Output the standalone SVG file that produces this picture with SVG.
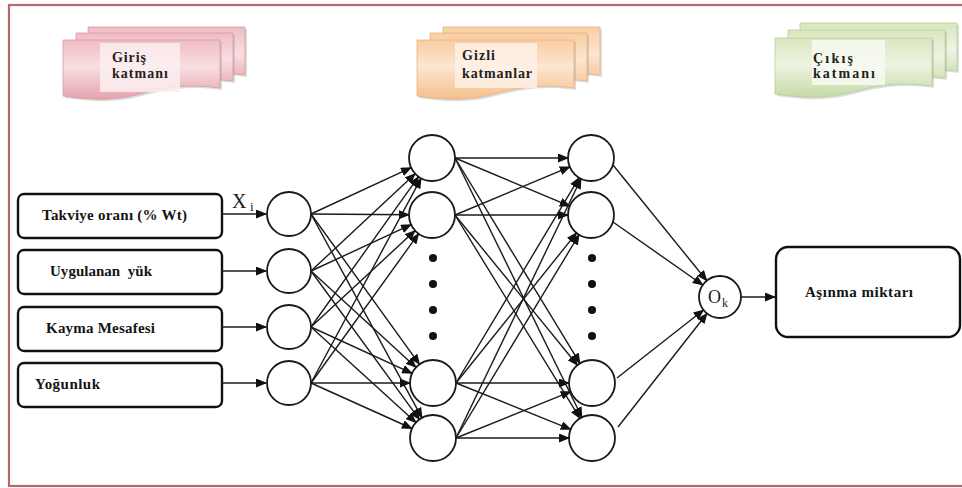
<svg xmlns="http://www.w3.org/2000/svg" width="962" height="488" viewBox="0 0 962 488">
<style>
.box{fill:#fff;stroke:#111;stroke-width:2.4}
.node{fill:#fff;stroke:#1a1a1a;stroke-width:1.8}
.dot{fill:#111}
.edge{stroke:#1a1a1a;stroke-width:1.4;fill:none;marker-end:url(#ah)}
.lbl{font-family:"Liberation Serif","Times New Roman",serif;font-weight:bold;font-size:15px;fill:#151515;white-space:pre}
.hdr{font-family:"Liberation Serif","Times New Roman",serif;font-weight:bold;font-size:14px;fill:#222}
.sym{font-family:"Liberation Serif","Times New Roman",serif;fill:#1a1a1a}
.shadow{fill:#9a9a9a;opacity:0.35}
</style>
<defs>
<marker id="ah" markerUnits="userSpaceOnUse" markerWidth="11" markerHeight="9" refX="10" refY="4.5" orient="auto">
<path d="M0,0 L11,4.5 L0,9 z" fill="#111"/>
</marker>
<path id="doc" d="M0,0 H157 V48 C127,44 107,46 77,54 C52,61 27,60 0,56 Z"/>
<linearGradient id="gp" x1="0" y1="0" x2="0" y2="1">
<stop offset="0" stop-color="#efbcc2"/><stop offset="0.45" stop-color="#f8dfe2"/><stop offset="1" stop-color="#e6a3ac"/>
</linearGradient>
<linearGradient id="go" x1="0" y1="0" x2="0" y2="1">
<stop offset="0" stop-color="#f8cda2"/><stop offset="0.45" stop-color="#fce6d0"/><stop offset="1" stop-color="#f4bf8c"/>
</linearGradient>
<linearGradient id="gg" x1="0" y1="0" x2="0" y2="1">
<stop offset="0" stop-color="#d9e6bf"/><stop offset="0.45" stop-color="#eef4e2"/><stop offset="1" stop-color="#c6daa6"/>
</linearGradient>
</defs>

<rect x="9" y="5" width="960" height="481" fill="none" stroke="#b8676d" stroke-width="2.2"/>

<g id="layer-input-label">
<use href="#doc" x="90" y="29" class="shadow"/>
<use href="#doc" x="88" y="27" fill="url(#gp)" stroke="#d79aa2" stroke-width="0.8"/>
<use href="#doc" x="78" y="35" class="shadow"/>
<use href="#doc" x="76" y="33" fill="url(#gp)" stroke="#d79aa2" stroke-width="0.8"/>
<use href="#doc" x="65" y="42" class="shadow"/>
<use href="#doc" x="63" y="40" fill="url(#gp)" stroke="#d79aa2" stroke-width="0.8"/>
<rect x="100" y="43" width="80" height="49" fill="#fbeef0" opacity="0.85"/>
<text class="hdr" x="112" y="62" textLength="34" lengthAdjust="spacing">Giriş</text>
<text class="hdr" x="112" y="78" textLength="56" lengthAdjust="spacing">katmanı</text>
</g>

<g id="layer-hidden-label">
<use href="#doc" x="445" y="29" class="shadow"/>
<use href="#doc" x="443" y="27" fill="url(#go)" stroke="#e8b184" stroke-width="0.8"/>
<use href="#doc" x="432" y="35" class="shadow"/>
<use href="#doc" x="430" y="33" fill="url(#go)" stroke="#e8b184" stroke-width="0.8"/>
<use href="#doc" x="419" y="42" class="shadow"/>
<use href="#doc" x="417" y="40" fill="url(#go)" stroke="#e8b184" stroke-width="0.8"/>
<rect x="455" y="43" width="82" height="45" fill="#fdf1e5" opacity="0.85"/>
<text class="hdr" x="462" y="60" textLength="33" lengthAdjust="spacing">Gizli</text>
<text class="hdr" x="462" y="78" textLength="70" lengthAdjust="spacing">katmanlar</text>
</g>

<g id="layer-output-label">
<use href="#doc" x="802" y="25" class="shadow"/>
<use href="#doc" x="800" y="23" fill="url(#gg)" stroke="#b9cf98" stroke-width="0.8"/>
<use href="#doc" x="790" y="32" class="shadow"/>
<use href="#doc" x="788" y="30" fill="url(#gg)" stroke="#b9cf98" stroke-width="0.8"/>
<use href="#doc" x="777" y="40" class="shadow"/>
<use href="#doc" x="775" y="38" fill="url(#gg)" stroke="#b9cf98" stroke-width="0.8"/>
<rect x="812" y="40" width="73" height="45" fill="#f6f9ef" opacity="0.9"/>
<text class="hdr" x="813" y="63" textLength="40" lengthAdjust="spacing">Çıkış</text>
<text class="hdr" x="813" y="78" textLength="62" lengthAdjust="spacing">katmanı</text>
</g>

<g id="in1"><rect class="box" x="18" y="194" width="204" height="44" rx="6"/><text class="lbl" x="42" y="220" textLength="145" lengthAdjust="spacing">Takviye oranı (% Wt)</text></g>
<g id="in2"><rect class="box" x="18" y="250" width="204" height="44" rx="6"/><text class="lbl" x="50" y="276" textLength="102" lengthAdjust="spacing">Uygulanan  yük</text></g>
<g id="in3"><rect class="box" x="18" y="307" width="204" height="44" rx="6"/><text class="lbl" x="46" y="333" textLength="109" lengthAdjust="spacing">Kayma Mesafesi</text></g>
<g id="in4"><rect class="box" x="18" y="363" width="204" height="44" rx="6"/><text class="lbl" x="35" y="389" textLength="65" lengthAdjust="spacing">Yoğunluk</text></g>

<g id="xi-label"><text class="sym" x="232" y="208" font-size="20">X</text><text class="sym" x="250" y="211" font-size="13">i</text></g>

<g id="i1"><circle class="node" cx="289" cy="214" r="22"/></g>
<g id="i2"><circle class="node" cx="289" cy="271" r="22"/></g>
<g id="i3"><circle class="node" cx="289" cy="327" r="22"/></g>
<g id="i4"><circle class="node" cx="289" cy="383" r="22"/></g>

<g id="h1a"><circle class="node" cx="432" cy="158" r="23"/></g>
<g id="h1b"><circle class="node" cx="432" cy="215" r="23"/></g>
<g id="h1c"><circle class="node" cx="433" cy="383" r="23"/></g>
<g id="h1d"><circle class="node" cx="433" cy="438" r="23"/></g>
<g id="h1dots"><circle class="dot" cx="433" cy="258" r="4"/><circle class="dot" cx="433" cy="284" r="4"/><circle class="dot" cx="433" cy="310" r="4"/><circle class="dot" cx="433" cy="336" r="4"/></g>

<g id="h2a"><circle class="node" cx="591" cy="158" r="23"/></g>
<g id="h2b"><circle class="node" cx="591" cy="215" r="23"/></g>
<g id="h2c"><circle class="node" cx="592" cy="383" r="23"/></g>
<g id="h2d"><circle class="node" cx="592" cy="438" r="23"/></g>
<g id="h2dots"><circle class="dot" cx="592" cy="258" r="4"/><circle class="dot" cx="592" cy="284" r="4"/><circle class="dot" cx="592" cy="310" r="4"/><circle class="dot" cx="592" cy="336" r="4"/></g>

<g id="out"><circle class="node" cx="720" cy="297" r="21"/><text class="sym" x="708" y="303" font-size="18">O</text><text class="sym" x="722" y="307" font-size="12">k</text></g>

<g id="result"><rect class="box" x="776" y="247" width="184" height="90" rx="12"/><text class="lbl" x="805" y="297" textLength="108" lengthAdjust="spacing">Aşınma miktarı</text></g>

<g id="connectors">
<line class="edge" x1="222" y1="214" x2="266" y2="214"/>
<line class="edge" x1="222" y1="271" x2="266" y2="271"/>
<line class="edge" x1="222" y1="327" x2="266" y2="327"/>
<line class="edge" x1="222" y1="383" x2="266" y2="383"/>

<line class="edge" x1="311" y1="214" x2="411.1" y2="167.7"/>
<line class="edge" x1="311" y1="214" x2="409" y2="214.8"/>
<line class="edge" x1="311" y1="214" x2="419.5" y2="364.3"/>
<line class="edge" x1="311" y1="214" x2="422" y2="417.8"/>
<line class="edge" x1="311" y1="271" x2="415.2" y2="173.7"/>
<line class="edge" x1="311" y1="271" x2="411.1" y2="224.7"/>
<line class="edge" x1="311" y1="271" x2="416.1" y2="367.4"/>
<line class="edge" x1="311" y1="271" x2="419.4" y2="419.4"/>
<line class="edge" x1="311" y1="327" x2="418.6" y2="176.7"/>
<line class="edge" x1="311" y1="327" x2="415.1" y2="230.6"/>
<line class="edge" x1="311" y1="327" x2="412.1" y2="373.4"/>
<line class="edge" x1="311" y1="327" x2="416" y2="422.5"/>
<line class="edge" x1="311" y1="383" x2="421.1" y2="178.3"/>
<line class="edge" x1="311" y1="383" x2="418.6" y2="233.7"/>
<line class="edge" x1="311" y1="383" x2="410" y2="383"/>
<line class="edge" x1="311" y1="383" x2="412" y2="428.5"/>

<line class="edge" x1="455" y1="158" x2="568" y2="158"/>
<line class="edge" x1="455" y1="158" x2="569.8" y2="206.1"/>
<line class="edge" x1="455" y1="158" x2="580" y2="363.4"/>
<line class="edge" x1="455" y1="158" x2="581.9" y2="417.3"/>
<line class="edge" x1="455" y1="215" x2="569.8" y2="166.9"/>
<line class="edge" x1="455" y1="215" x2="568" y2="215"/>
<line class="edge" x1="455" y1="215" x2="577.5" y2="365.2"/>
<line class="edge" x1="455" y1="215" x2="580" y2="418.4"/>
<line class="edge" x1="456" y1="383" x2="579.2" y2="177.7"/>
<line class="edge" x1="456" y1="383" x2="576.6" y2="232.9"/>
<line class="edge" x1="456" y1="383" x2="569" y2="383"/>
<line class="edge" x1="456" y1="383" x2="570.7" y2="429.4"/>
<line class="edge" x1="456" y1="438" x2="581" y2="178.7"/>
<line class="edge" x1="456" y1="438" x2="579.1" y2="234.7"/>
<line class="edge" x1="456" y1="438" x2="570.7" y2="391.6"/>
<line class="edge" x1="456" y1="438" x2="569" y2="438"/>

<line class="edge" x1="613" y1="165" x2="706.8" y2="280.7"/>
<line class="edge" x1="613" y1="222" x2="702.8" y2="285"/>
<line class="edge" x1="617" y1="378" x2="703.5" y2="310"/>
<line class="edge" x1="618" y1="427" x2="707" y2="313.5"/>

<line class="edge" x1="741" y1="297" x2="775" y2="297"/>
</g>
</svg>
